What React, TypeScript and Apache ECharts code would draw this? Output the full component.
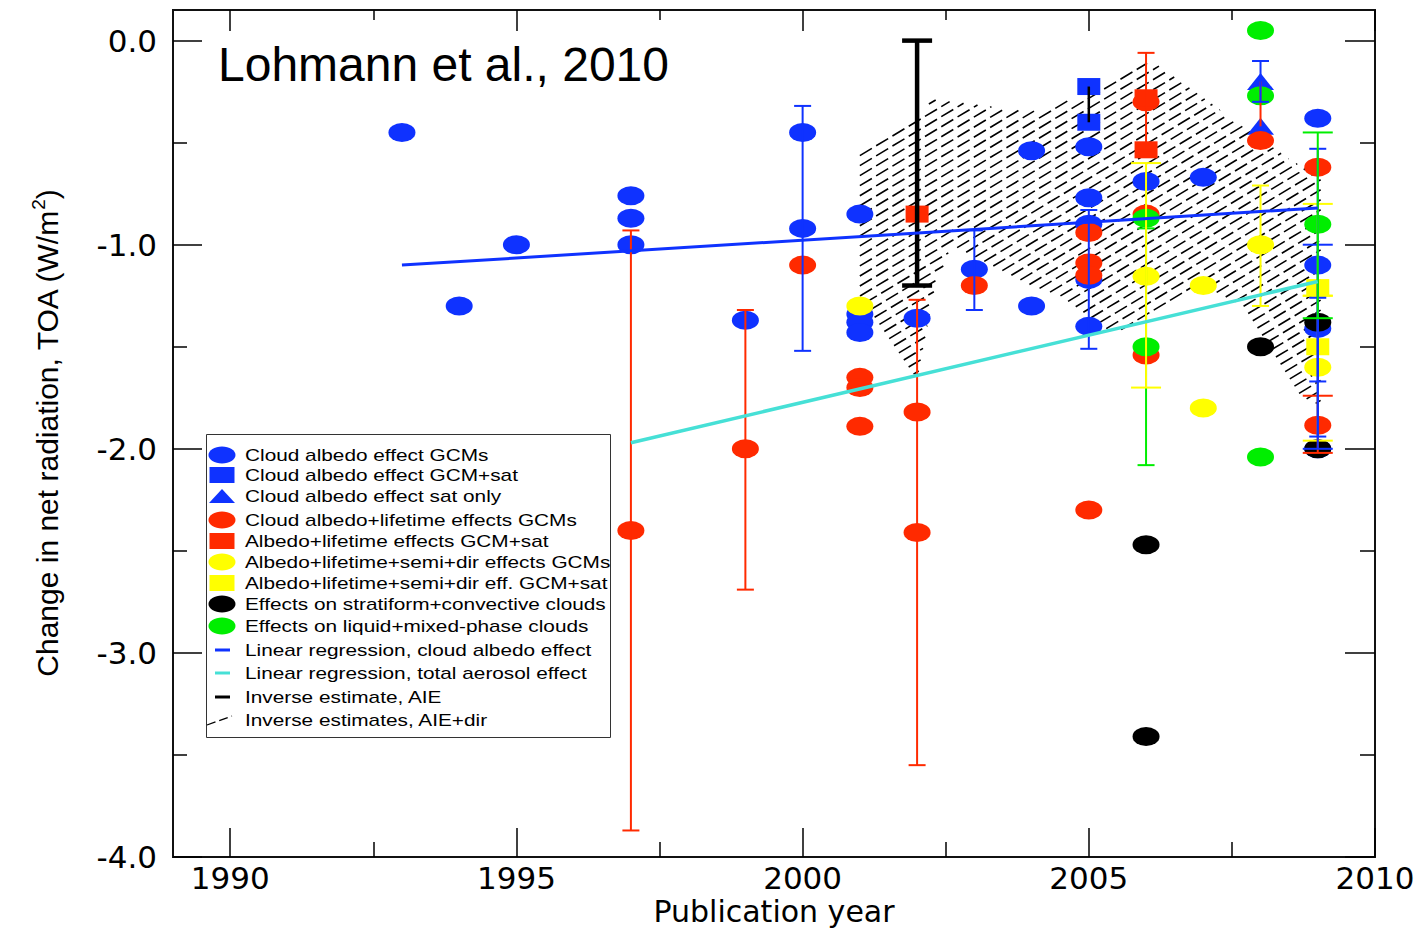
import React, { useEffect, useRef } from 'react';
import * as echarts from 'echarts';

// ---- axis ticks ----
const xTicks = [1990, 1995, 2000, 2005, 2010];
const xMinorTicks = [1992.5, 1997.5, 2002.5, 2007.5];
const yTicks = [0, -1, -2, -3, -4];
const yMinorTicks = [-0.5, -1.5, -2.5, -3.5];

// ---- point estimates [year, W/m2] ----
const albedoGcm = [
  [1993, -0.45], [1994, -1.3], [1995, -1.0], [1997, -0.76], [1997, -0.87], [1997, -1.0],
  [1999, -1.37], [2000, -0.45], [2000, -0.92], [2001, -0.85], [2001, -1.34], [2001, -1.38],
  [2001, -1.43], [2002, -1.36], [2003, -1.12], [2004, -0.54], [2004, -1.3], [2005, -0.52],
  [2005, -0.77], [2005, -0.9], [2005, -1.17], [2005, -1.4], [2006, -0.69], [2007, -0.67],
  [2009, -0.38], [2009, -1.1], [2009, -1.41], [2009, -2.0],
];
const albedoGcmSat = [[2005, -0.225], [2005, -0.4]];
const albedoSatOnly = [[2008, -0.2], [2008, -0.42]];
const lifetimeGcm = [
  [1997, -2.4], [1999, -2.0], [2000, -1.1], [2001, -1.65], [2001, -1.7], [2001, -1.89],
  [2002, -1.82], [2002, -2.41], [2003, -1.2], [2005, -0.94], [2005, -1.09], [2005, -1.15],
  [2005, -2.3], [2006, -0.3], [2006, -0.85], [2006, -1.54], [2008, -0.49], [2009, -0.62],
  [2009, -1.885],
];
const lifetimeGcmSat = [[2002, -0.85], [2006, -0.28], [2006, -0.535]];
const semiDirGcm = [[2001, -1.3], [2006, -1.155], [2007, -1.2], [2007, -1.8], [2008, -1.0], [2009, -1.6]];
const semiDirGcmSat = [[2009, -1.21], [2009, -1.5]];
const stratConv = [[2006, -2.47], [2006, -3.41], [2008, -1.5], [2009, -1.38], [2009, -2.0]];
const liquidMixed = [[2006, -0.87], [2006, -1.5], [2008, 0.05], [2008, -0.27], [2008, -2.04], [2009, -0.9]];

// ---- uncertainty ranges [year, upper, lower] ----
const albedoErrors = [
  [2000, -0.32, -1.52], [2003, -0.93, -1.32], [2005, -0.83, -1.51], [2008, -0.1, -0.3],
  [2009, -0.53, -1.67], [2009, -1.26, -1.94],
];
const albedoErrorsWide = [[2009, -1.0, -2.0]];
const lifetimeErrors = [[1997, -0.93, -3.87], [1999, -1.32, -2.69], [2002, -1.27, -3.55], [2006, -0.06, -0.54]];
const lifetimeErrorsWide = [[2009, -1.74, -2.02]];
const lifetimeSpan = [[2008, -0.2, -0.42]];
const semiDirErrors = [[2008, -0.71, -1.3]];
const semiDirErrorsWide = [[2006, -0.6, -1.7], [2009, -0.8, -1.25], [2009, -1.25, -1.96]];
const liquidErrors = [[2006, -0.92, -2.08]];
const liquidErrorsWide = [[2009, -0.45, -1.36]];
const albedoSatSpan = [[2005, -0.225, -0.4]];
const inverseAie = [[2002, 0.0, -1.2]];

// ---- regressions ----
const albedoTrend = [[1993, -1.1], [2009, -0.82]];
const totalTrend = [[1997, -1.97], [2009, -1.18]];

// ---- inverse estimates, AIE+dir (outline) ----
const aieDirRegion = [
  [2001.0, -0.56], [2001.4, -0.49], [2002.3, -0.29], [2003.5, -0.33], [2004.2, -0.35],
  [2005.2, -0.22], [2006.1, -0.1], [2006.6, -0.2], [2007.3, -0.34], [2008.55, -0.59],
  [2009.05, -0.66], [2009.05, -1.79], [2008.7, -1.74], [2007.7, -1.3], [2007.0, -1.2],
  [2006.0, -1.38], [2005.4, -1.43], [2004.5, -1.25], [2004.0, -1.2], [2003.3, -1.1],
  [2002.6, -1.0], [2002.3, -1.22], [2002.0, -1.66], [2001.0, -1.25],
];

const legendLabels = [
  'Cloud albedo effect GCMs',
  'Cloud albedo effect GCM+sat',
  'Cloud albedo effect sat only',
  'Cloud albedo+lifetime effects GCMs',
  'Albedo+lifetime effects GCM+sat',
  'Albedo+lifetime+semi+dir effects GCMs',
  'Albedo+lifetime+semi+dir eff. GCM+sat',
  'Effects on stratiform+convective clouds',
  'Effects on liquid+mixed-phase clouds',
  'Linear regression, cloud albedo effect',
  'Linear regression, total aerosol effect',
  'Inverse estimate, AIE',
  'Inverse estimates, AIE+dir',
];

const BLUE = '#0f32ff';
const RED = '#ff2a00';
const YELLOW = '#ffff00';
const GREEN = '#00ee00';
const BLACK = '#000000';
const CYAN = '#46e0d6';
const ELLIPSE = 'path://M0,50A50,50,0,1,1,100,50A50,50,0,1,1,0,50Z';
const CIRCLE_SIZE = [27, 19];
const SQUARE_SIZE = [23, 17];
const TRIANGLE_SIZE = [27, 17];

const X_MIN = 1989;
const X_MAX = 2010;
const Y_MIN = -4;
const Y_MAX = 0.15;

function scatter(name: string, data: number[][], color: string, symbol: string, size: number[]) {
  return {
    type: 'scatter', name, data, symbol, symbolSize: size, z: 2, silent: true,
    itemStyle: { color, opacity: 1 },
  };
}

function errorBars(name: string, data: number[][], color: string, cap: number, width = 2) {
  return {
    type: 'custom', name, data, z: 3, silent: true,
    encode: { x: 0, y: [1, 2] },
    renderItem: (_params: any, api: any) => {
      const x = api.value(0);
      const top = api.coord([x, api.value(1)]);
      const bot = api.coord([x, api.value(2)]);
      const style = { stroke: color, lineWidth: width };
      const children: any[] = [
        { type: 'line', shape: { x1: top[0], y1: top[1], x2: bot[0], y2: bot[1] }, style },
      ];
      if (cap > 0) {
        children.push({ type: 'line', shape: { x1: top[0] - cap / 2, y1: top[1], x2: top[0] + cap / 2, y2: top[1] }, style });
        children.push({ type: 'line', shape: { x1: bot[0] - cap / 2, y1: bot[1], x2: bot[0] + cap / 2, y2: bot[1] }, style });
      }
      return { type: 'group', children };
    },
  };
}

// diagonal dashed hatching clipped to the region outline
function hatchSeries() {
  return {
    type: 'custom', name: 'Inverse estimates, AIE+dir', data: aieDirRegion, z: 1, silent: true,
    encode: { x: 0, y: 1 },
    renderItem: (params: any, api: any) => {
      if (params.dataIndex !== 0) return null;
      const pts = aieDirRegion.map((p) => api.coord(p));
      const th = (31 * Math.PI) / 180;
      const d = [Math.cos(th), -Math.sin(th)];
      const n = [Math.sin(th), Math.cos(th)];
      const proj = (p: number[]) => p[0] * n[0] + p[1] * n[1];
      let cmin = Infinity;
      let cmax = -Infinity;
      pts.forEach((p: number[]) => {
        const v = proj(p);
        cmin = Math.min(cmin, v);
        cmax = Math.max(cmax, v);
      });
      const spacing = 8.6;
      const children: any[] = [];
      for (let c = Math.ceil(cmin / spacing) * spacing + 0.01; c <= cmax; c += spacing) {
        const hits: number[][] = [];
        for (let i = 0; i < pts.length; i++) {
          const p1 = pts[i];
          const p2 = pts[(i + 1) % pts.length];
          const f1 = proj(p1) - c;
          const f2 = proj(p2) - c;
          if ((f1 < 0) !== (f2 < 0)) {
            const t = f1 / (f1 - f2);
            hits.push([p1[0] + t * (p2[0] - p1[0]), p1[1] + t * (p2[1] - p1[1])]);
          }
        }
        hits.sort((a, b) => a[0] * d[0] + a[1] * d[1] - (b[0] * d[0] + b[1] * d[1]));
        for (let k = 0; k + 1 < hits.length; k += 2) {
          children.push({
            type: 'line',
            shape: { x1: hits[k][0], y1: hits[k][1], x2: hits[k + 1][0], y2: hits[k + 1][1] },
            style: { stroke: '#000', lineWidth: 1.6, lineDash: [14, 5] },
          });
        }
      }
      return { type: 'group', children };
    },
  };
}

function trendLine(name: string, data: number[][], color: string, width: number) {
  return {
    type: 'line', name, data, z: 4, silent: true, showSymbol: false, symbol: 'none',
    lineStyle: { color, width },
  };
}

function buildLegend() {
  const left = 206;
  const top = 434;
  const iconX = 222;
  const textX = 245;
  const rows = [455, 475, 496, 520, 541, 562, 583, 604, 626, 650, 673, 697, 720];
  const children: any[] = [
    { type: 'rect', shape: { x: left + 0.5, y: top + 0.5, width: 404, height: 303 }, style: { fill: '#fff', stroke: '#333', lineWidth: 1 } },
  ];
  const ellipse = (cy: number, fill: string) => ({ type: 'ellipse', shape: { cx: iconX, cy, rx: 13.5, ry: 8.5 }, style: { fill } });
  const square = (cy: number, fill: string) => ({ type: 'rect', shape: { x: iconX - 12.5, y: cy - 8, width: 25, height: 16 }, style: { fill } });
  const dash = (cy: number, stroke: string) => ({ type: 'line', shape: { x1: iconX - 7, y1: cy, x2: iconX + 8, y2: cy }, style: { stroke, lineWidth: 3 } });
  const icons = [
    ellipse(rows[0], BLUE),
    square(rows[1], BLUE),
    { type: 'polygon', shape: { points: [[iconX - 13, rows[2] + 7], [iconX + 13, rows[2] + 7], [iconX, rows[2] - 7]] }, style: { fill: BLUE } },
    ellipse(rows[3], RED),
    square(rows[4], RED),
    ellipse(rows[5], YELLOW),
    square(rows[6], YELLOW),
    ellipse(rows[7], BLACK),
    ellipse(rows[8], GREEN),
    dash(rows[9], BLUE),
    dash(rows[10], CYAN),
    dash(rows[11], BLACK),
    { type: 'line', shape: { x1: left + 1, y1: rows[12] + 5, x2: iconX + 10, y2: rows[12] - 4 }, style: { stroke: '#000', lineWidth: 1.3, lineDash: [9, 4] } },
  ];
  children.push(...icons);
  legendLabels.forEach((label, i) => {
    children.push({
      type: 'text', x: textX, y: rows[i], scaleX: 1.3,
      style: { text: label, fontSize: 16, fontFamily: 'Liberation Sans, Arial, sans-serif', fill: '#000', verticalAlign: 'middle', align: 'left' },
    });
  });
  return { type: 'group', z: 10, children };
}

const tickLine = { color: '#000', width: 1.5 };
const labelFont = 'DejaVu Sans';

function xAxis(position: 'top' | 'bottom', ticks: number[], length: number, labels: boolean) {
  return {
    type: 'value', min: X_MIN, max: X_MAX, position,
    axisLine: { show: false, onZero: false }, splitLine: { show: false },
    axisTick: { show: true, inside: true, length, customValues: ticks, lineStyle: tickLine },
    axisLabel: labels
      ? { show: true, customValues: ticks, margin: 6, fontSize: 31, lineHeight: 29, fontFamily: labelFont, color: '#000', formatter: (v: number) => String(v) }
      : { show: false },
  };
}

function yAxis(position: 'left' | 'right', ticks: number[], length: number, labels: boolean) {
  return {
    type: 'value', min: Y_MIN, max: Y_MAX, position,
    axisLine: { show: false, onZero: false }, splitLine: { show: false },
    axisTick: { show: true, inside: true, length, customValues: ticks, lineStyle: tickLine },
    axisLabel: labels
      ? { show: true, customValues: ticks, margin: 16, fontSize: 31, fontFamily: labelFont, color: '#000', formatter: (v: number) => v.toFixed(1) }
      : { show: false },
  };
}

function buildOption() {
  const xs: any[] = [
    xAxis('bottom', xTicks, 29, true),
    xAxis('bottom', xMinorTicks, 15, false),
    xAxis('top', xTicks, 21, false),
    xAxis('top', xMinorTicks, 10, false),
  ];
  Object.assign(xs[0], {
    name: 'Publication year', nameLocation: 'middle', nameGap: 39, nameMoveOverlap: false,
    nameTextStyle: { fontSize: 30, lineHeight: 30, fontFamily: labelFont, color: '#000' },
  });
  const ys: any[] = [
    yAxis('left', yTicks, 29, true),
    yAxis('left', yMinorTicks, 14, false),
    yAxis('right', yTicks, 30, false),
    yAxis('right', yMinorTicks, 15, false),
  ];
  const nameFont = 'Liberation Sans, Arial, sans-serif';
  Object.assign(ys[0], {
    name: 'Change in net radiation, TOA (W/m{sup|2})', nameLocation: 'middle', nameGap: 108, nameMoveOverlap: false,
    nameTextStyle: {
      fontSize: 30, fontFamily: nameFont, color: '#000', lineHeight: 36,
      rich: { sup: { fontSize: 19, fontFamily: nameFont, color: '#000', verticalAlign: 'top', lineHeight: 19 } },
    },
  });

  return {
    animation: false,
    backgroundColor: '#ffffff',
    title: {
      text: 'Lohmann et al., 2010', left: 218, top: 40, padding: 0,
      textStyle: { fontSize: 48, fontWeight: 'normal', fontFamily: 'Liberation Sans, Arial, sans-serif', color: '#000' },
    },
    grid: {
      left: 173, right: 50, top: 10, bottom: 74, show: true, borderColor: '#111', borderWidth: 2,
      backgroundColor: 'transparent', containLabel: false, outerBoundsMode: 'none',
    },
    xAxis: xs,
    yAxis: ys,
    graphic: [buildLegend()],
    series: [
      hatchSeries(),
      scatter(legendLabels[0], albedoGcm, BLUE, ELLIPSE, CIRCLE_SIZE),
      scatter(legendLabels[1], albedoGcmSat, BLUE, 'rect', SQUARE_SIZE),
      scatter(legendLabels[2], albedoSatOnly, BLUE, 'triangle', TRIANGLE_SIZE),
      scatter(legendLabels[3], lifetimeGcm, RED, ELLIPSE, CIRCLE_SIZE),
      scatter(legendLabels[4], lifetimeGcmSat, RED, 'rect', SQUARE_SIZE),
      scatter(legendLabels[5], semiDirGcm, YELLOW, ELLIPSE, CIRCLE_SIZE),
      scatter(legendLabels[6], semiDirGcmSat, YELLOW, 'rect', SQUARE_SIZE),
      scatter(legendLabels[7], stratConv, BLACK, ELLIPSE, CIRCLE_SIZE),
      scatter(legendLabels[8], liquidMixed, GREEN, ELLIPSE, CIRCLE_SIZE),
      errorBars('lifetime range', lifetimeErrors, RED, 17),
      errorBars('lifetime span', lifetimeSpan, RED, 0),
      errorBars('liquid range', liquidErrors, GREEN, 17),
      errorBars('semi-direct range', semiDirErrors, YELLOW, 17),
      errorBars('semi-direct range wide', semiDirErrorsWide, YELLOW, 30),
      errorBars('lifetime range wide', lifetimeErrorsWide, RED, 30),
      errorBars('albedo range', albedoErrors, BLUE, 17),
      errorBars('albedo range wide', albedoErrorsWide, BLUE, 30),
      errorBars('liquid range wide', liquidErrorsWide, GREEN, 30),
      errorBars('albedo sat span', albedoSatSpan, BLACK, 0, 2.5),
      errorBars(legendLabels[11], inverseAie, BLACK, 30, 4.5),
      trendLine(legendLabels[9], albedoTrend, BLUE, 3),
      trendLine(legendLabels[10], totalTrend, CYAN, 3.5),
    ],
  };
}

export default function App() {
  const ref = useRef<HTMLDivElement>(null);
  useEffect(() => {
    if (!ref.current) return;
    const chart = echarts.init(ref.current, null, { renderer: 'svg' });
    chart.setOption(buildOption() as any);
    return () => chart.dispose();
  }, []);
  return (
    <div
      ref={ref}
      style={{ position: 'fixed', left: 0, top: 0, width: 1425, height: 931, background: '#fff' }}
    />
  );
}
